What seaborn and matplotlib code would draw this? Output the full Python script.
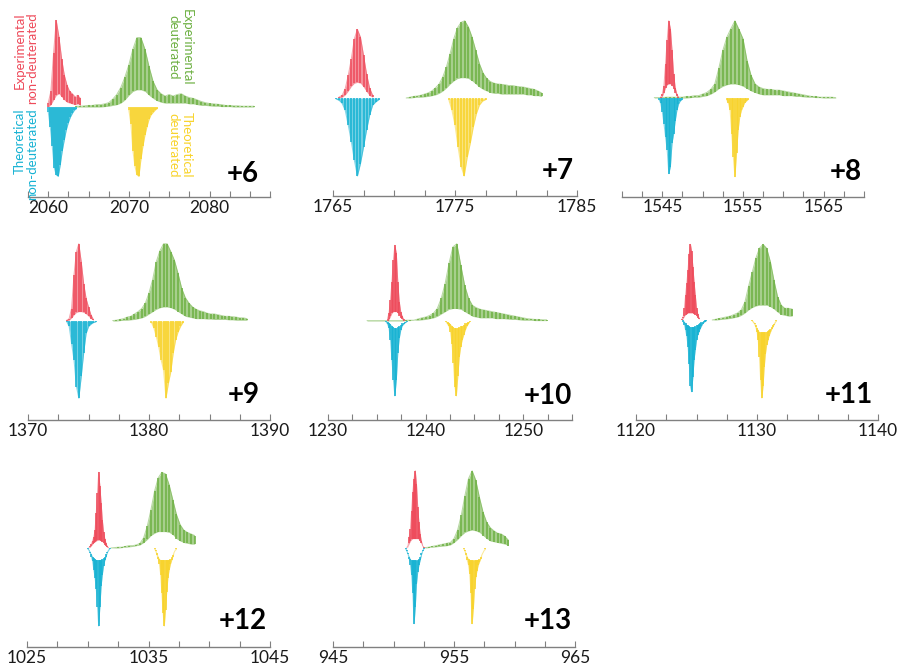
import numpy as np
import matplotlib
matplotlib.use("Agg")
import matplotlib.pyplot as plt
import seaborn as sns

# ---------------------------------------------------------------- data
CHARGES = [6, 7, 8, 9, 10, 11, 12, 13]
XLIM_LO = [2057.5, 1765, 1540, 1370, 1230, 1120, 1025, 945]
XLIM_HI = [2087.5, 1785, 1570, 1390, 1255, 1140, 1045, 965]
TICK_LABELS = [
    [2060, 2070, 2080], [1765, 1775, 1785], [1545, 1555, 1565],
    [1370, 1380, 1390], [1230, 1240, 1250], [1120, 1130, 1140],
    [1025, 1035, 1045], [945, 955, 965],
]

# m/z of first sampled point and sampling interval for each trace
RED_START = [2060.0, 1765.5, 1544.8, 1373.2, 1236.1, 1123.8, 1030.1, 951.1]
RED_STEP = [0.3333, 0.25, 0.2, 0.2, 0.15, 0.1, 0.1, 0.1]
GREEN_START = [2063.5, 1771.0, 1544.0, 1377.0, 1234.0, 1126.3, 1031.9, 952.6]
GREEN_STEP = [0.5, 0.3, 0.5, 0.3, 0.4, 0.3, 0.3, 0.3]
CYAN_START = [2060.0, 1765.25, 1544.6, 1373.2, 1235.95, 1123.9, 1030.0, 951.0]
CYAN_STEP = [0.25, 0.25, 0.2, 0.2, 0.15, 0.1, 0.1, 0.1]
YELLOW_START = [2070.0, 1774.5, 1553.0, 1380.2, 1242.1, 1129.6, 1035.5, 955.8]
YELLOW_STEP = [0.25, 0.25, 0.2, 0.2, 0.15, 0.1, 0.1, 0.1]

# experimental non-deuterated (peak tops / valley floors, relative intensity)
red_6 = [5, 20, 69, 111, 90, 62, 41, 28, 20, 17, 13, 15, 11]
red_6_low = [0, 3, 9, 15, 17, 13, 9, 6, 5, 4, 3, 4, 2]
red_7 = [1.3, 3.4, 12, 29, 50, 76, 88, 78, 55, 31, 13, 3.4]
red_7_low = [0, 1, 4, 9, 15, 19, 20, 19, 14, 8, 3, 1]
red_8 = [1, 5, 16, 44, 74, 99, 89, 61, 31, 13, 5, 1]
red_8_low = [0, 2, 7, 13, 17, 18, 18, 16, 11, 6, 2, 0]
red_9 = [1, 3, 16, 59, 89, 99, 76, 48, 29, 18, 8, 2]
red_9_low = [0, 1, 4, 8, 11, 12, 12, 11, 9, 6, 3, 1]
red_10 = [3, 10, 27, 50, 78, 97, 87, 50, 25, 12, 6, 2]
red_10_low = [0, 2, 6, 10, 12, 12, 12, 10, 7, 4, 2, 0]
red_11 = [1, 4, 15, 32, 47, 64, 85, 97, 88, 68, 49, 32, 16, 8, 3]
red_11_low = [0, 2, 5, 7, 8, 9, 9, 9, 9, 9, 8, 7, 5, 3, 1]
red_12 = [0.5, 2, 5, 9, 14, 23, 45, 70, 97, 79, 58, 36, 21, 12, 6, 2, 0.5]
red_12_low = [0, 1, 3, 5, 7, 8, 9, 10, 10, 10, 9, 8, 6, 4, 2, 1, 0]
red_13 = [0.5, 3, 14, 25, 48, 72, 89, 99, 82, 53, 33, 18, 9, 3, 1]
red_13_low = [0, 2, 6, 9, 11, 12, 12, 12, 12, 12, 11, 9, 6, 3, 0]

# experimental deuterated
green_6 = [1, 1, 1.5, 2, 2, 3, 3, 4, 5.5, 10, 16, 25, 38, 54, 74, 89, 89, 74, 52, 33,
           22, 17, 14, 16, 14, 16, 17, 14, 12, 11, 9, 7, 5.5, 4.5, 4, 3.5, 3, 2, 2, 1.5,
           1.5, 1, 1, 1, 1]
green_6_low = [0, 0, 0, 0, 0, 0, 0, 0.5, 1, 2, 3, 5, 9, 15, 20, 22, 22, 20, 15, 11,
               8, 6, 5, 5, 5, 5, 5, 5, 4, 4, 3, 2, 2, 1.5, 1, 1, 0.5, 0.5, 0.5, 0,
               0, 0, 0, 0, 0]
green_7 = [0, 1, 2, 2.5, 3.5, 5, 6.5, 9, 13, 18, 27, 40, 57, 76, 90, 97, 99, 91, 78, 61,
           44, 32, 25, 21, 19, 18, 17.5, 17, 16, 16, 15, 14.5, 14, 13, 12, 11, 9, 6.5]
green_7_low = [0, 0, 0.5, 1, 1, 1.5, 2, 3, 4, 6, 9, 13, 18, 22, 25, 26, 26, 25, 22, 18,
               14, 11, 9, 7, 6, 6, 5, 5, 5, 5, 5, 5, 5, 4, 4, 3, 3, 2]
green_8 = [0.5, 0.5, 0.5, 1, 1, 1, 1, 1, 2, 2, 3, 3, 5, 7, 11, 18, 38, 61, 78, 89,
           99, 88, 76, 48, 29, 18, 14, 12, 11, 11, 10, 10, 9, 8, 7, 6, 5, 4, 3, 2,
           2, 1, 1, 1, 1, 0.5]
green_8_low = [0, 0, 0, 0, 0, 0, 0, 0, 0, 0.5, 1, 1, 2, 3, 5, 8, 12, 15, 17, 18,
               18, 17, 15, 12, 9, 7, 5, 4, 4, 4, 4, 4, 3, 3, 3, 2, 2, 1.5, 1, 1,
               0.5, 0.5, 0, 0, 0, 0]
green_9 = [0.5, 1, 2, 3, 5, 6, 9, 12, 16, 23, 36, 53, 76, 90, 99, 99, 89, 78, 61, 42,
           30, 23, 18, 15, 13, 12, 10, 9, 9, 8, 7, 6, 6, 5.5, 5, 4, 4, 3]
green_9_low = [0, 0, 0.5, 1, 1, 1.5, 2, 3, 4, 6, 9, 12, 15, 17, 18, 18, 17, 15, 12, 9,
               6, 5, 4, 3, 3, 3, 2.5, 2.5, 2, 2, 2, 2, 1.5, 1.5, 1, 1, 1, 1]
green_10 = [0.5, 0.5, 0.5, 0.5, 0.5, 0.5, 0.5, 0.5, 0.5, 0.5, 1, 1, 1, 2.5, 4, 5, 7, 10, 16, 29,
            48, 74, 95, 99, 72, 46, 29, 20, 17, 15, 14, 13, 12, 11, 10, 9, 8, 7, 6, 5,
            4, 3, 2.5, 2, 2, 1.5, 1.5]
green_10_low = [0, 0, 0, 0, 0, 0, 0, 0, 0, 0, 0.5, 0.5, 1, 1, 1.5, 2, 3, 4, 6, 9,
                12, 15, 16, 16, 15, 12, 9, 6, 5, 4, 4, 4, 4, 3, 3, 3, 2.5, 2, 2, 1.5,
                1, 1, 1, 0.5, 0.5, 0.5, 0.5]
green_11 = [0, 1, 2, 3, 4, 5, 7, 9, 13, 23, 43, 61, 79, 92, 97, 92, 75, 51, 30, 19,
            15, 15, 14]
green_11_low = [0, 0, 0.5, 1, 1.5, 2, 3, 4, 6, 9, 13, 16, 18, 19, 19, 19, 17, 14, 10, 7,
                6, 5, 5]
green_12 = [0, 0.5, 1, 1, 2, 3, 3, 4, 6, 13, 28, 49, 73, 90, 97, 95, 81, 62, 43, 30,
            23, 20, 18, 16]
green_12_low = [0, 0, 0, 0.5, 1, 1.5, 2, 3, 4, 7, 11, 16, 19, 21, 21, 21, 20, 17, 12, 9,
                7, 6, 5, 5]
green_13 = [0.5, 1, 2, 3, 4, 5, 6, 7, 12, 23, 42, 67, 89, 99, 87, 65, 46, 33, 26, 22,
            19, 18, 15, 10]
green_13_low = [0, 0.5, 1, 1.5, 2, 2.5, 3, 4, 7, 11, 16, 20, 22, 23, 22, 20, 16, 12, 9, 8,
                7, 6, 5, 3]

# theoretical non-deuterated (plotted downward)
cyan_6 = [6, 25, 50, 78, 87, 89, 74, 56, 42, 29, 20, 13, 8, 4, 2]
cyan_7 = [1.3, 3, 7, 16, 35, 56, 80, 100, 84, 63, 41, 22, 9, 5, 2]
cyan_8 = [2, 7, 18, 33, 50, 67, 97, 88, 58, 46, 29, 16, 8, 4, 2]
cyan_9 = [1, 7, 29, 50, 84, 99, 71, 41, 16, 7, 4, 2, 1]
cyan_10 = [1, 4, 9, 24, 50, 76, 96, 76, 41, 22, 12, 6, 4, 2, 1]
cyan_10_low = [0, 1, 2, 4, 6, 8, 9, 9, 8, 7, 5, 3, 2, 1, 0]
cyan_11 = [2, 6, 13, 21, 34, 56, 85, 92, 73, 51, 38, 26, 19, 15, 11, 8, 5, 3, 2, 1]
cyan_11_low = [0, 2, 4, 6, 7, 8, 9, 9, 9, 9, 8, 7, 6, 5, 4, 3, 2, 1, 0.5, 0]
cyan_12 = [1, 3, 6, 11, 17, 28, 38, 53, 75, 100, 75, 49, 34, 23, 16, 11, 6, 3, 1]
cyan_12_low = [0, 2, 5, 8, 11, 13, 14, 15, 15, 15, 15, 15, 14, 13, 11, 8, 5, 2, 0]
cyan_13 = [1, 4, 8, 14, 22, 35, 58, 97, 76, 46, 31, 22, 16, 9, 4, 1]
cyan_13_low = [0, 3, 7, 11, 14, 16, 16, 16, 16, 16, 15, 14, 11, 7, 3, 0]

# theoretical deuterated (plotted downward)
yellow_6 = [4, 22, 56, 76, 87, 89, 67, 50, 36, 25, 16, 10, 7, 4, 2]
yellow_7 = [3, 16, 35, 63, 88, 100, 76, 58, 37, 20, 9, 4, 2]
yellow_8 = [3, 7, 16, 46, 76, 101, 71, 41, 24, 16, 11, 6, 4, 2]
yellow_9 = [2, 9, 20, 33, 50, 63, 99, 80, 65, 41, 24, 14, 7, 2]
yellow_10 = [1, 4, 7, 14, 29, 54, 84, 96, 71, 46, 33, 24, 18, 12, 7, 4, 1]
yellow_10_low = [0, 1, 2, 4, 6, 8, 9, 9, 9, 8, 7, 6, 5, 3, 2, 1, 0]
yellow_11 = [1, 3, 5, 9, 15, 26, 47, 77, 100, 85, 60, 43, 32, 26, 20, 16, 12, 9, 6, 3, 1]
yellow_11_low = [0, 2, 4, 7, 10, 13, 15, 16, 16, 16, 16, 15, 15, 14, 13, 11, 9, 7, 5, 2, 0]
yellow_12 = [1, 4, 9, 14, 21, 34, 58, 83, 100, 79, 56, 38, 28, 21, 16, 11, 6, 3, 1]
yellow_12_low = [0, 3, 7, 11, 14, 15, 15, 15, 15, 15, 15, 15, 15, 14, 12, 9, 6, 3, 0]
yellow_13 = [1, 4, 9, 16, 22, 33, 58, 97, 78, 52, 37, 29, 22, 18, 14, 9, 6, 3, 1]
yellow_13_low = [0, 3, 7, 11, 14, 16, 16, 16, 16, 16, 16, 15, 15, 14, 12, 9, 6, 3, 0]

RED_TOP = [red_6, red_7, red_8, red_9, red_10, red_11, red_12, red_13]
RED_LOW = [red_6_low, red_7_low, red_8_low, red_9_low, red_10_low, red_11_low, red_12_low, red_13_low]
GREEN_TOP = [green_6, green_7, green_8, green_9, green_10, green_11, green_12, green_13]
GREEN_LOW = [green_6_low, green_7_low, green_8_low, green_9_low, green_10_low, green_11_low,
             green_12_low, green_13_low]
CYAN_TOP = [cyan_6, cyan_7, cyan_8, cyan_9, cyan_10, cyan_11, cyan_12, cyan_13]
CYAN_LOW = [None, None, None, None, cyan_10_low, cyan_11_low, cyan_12_low, cyan_13_low]
YELLOW_TOP = [yellow_6, yellow_7, yellow_8, yellow_9, yellow_10, yellow_11, yellow_12, yellow_13]
YELLOW_LOW = [None, None, None, None, yellow_10_low, yellow_11_low, yellow_12_low, yellow_13_low]

# ---------------------------------------------------------------- style
RED = "#EE4A5A"
GREEN = "#6DB042"
CYAN = "#16B2D3"
YELLOW = "#F8D32A"
AXIS_GREY = "#808080"

sns.set_theme(style="white")
plt.rcParams["font.family"] = ["Lato", "DejaVu Sans"]

W, H = 899, 672
fig = plt.figure(figsize=(W / 100, H / 100), dpi=100)

# panel frames in pixels: left, right, axis-line y, zero-line y
FRAMES = [
    (28, 270, 197, 107), (333, 577, 196, 98), (622, 864, 196.5, 98),
    (28, 270, 420, 321), (328, 572, 420, 321), (636, 878, 420, 320),
    (27, 270, 647, 548), (333, 575, 647, 548),
]
LABEL_POS = [(243, 174), (558, 171), (846, 172), (244, 395),
             (548, 396), (849, 395), (243, 621), (548, 621)]
PX_PER_UNIT = 0.78
AX_HEIGHT = 188


def draw_trace(ax, start, step, top, low, sign, color):
    top = np.asarray(top, dtype=float)
    low = np.zeros_like(top) if low is None else np.asarray(low, dtype=float)
    x = start + step * np.arange(len(top))
    ax.fill_between(x, sign * low, sign * top, color=color, alpha=0.6, lw=0)
    ax.vlines(x, sign * low, sign * top, color=color, lw=1.1)
    sns.lineplot(x=x, y=sign * top, ax=ax, color=color, lw=0.7, alpha=0.5,
                 estimator=None, sort=False)


for i, z in enumerate(CHARGES):
    left, right, axis_y, zero_y = FRAMES[i]
    ax = fig.add_axes([left / W, 1 - axis_y / H, (right - left) / W, AX_HEIGHT / H])
    ax.patch.set_visible(False)

    draw_trace(ax, GREEN_START[i], GREEN_STEP[i], GREEN_TOP[i], GREEN_LOW[i], 1, GREEN)
    draw_trace(ax, RED_START[i], RED_STEP[i], RED_TOP[i], RED_LOW[i], 1, RED)
    draw_trace(ax, CYAN_START[i], CYAN_STEP[i], CYAN_TOP[i], CYAN_LOW[i], -1, CYAN)
    draw_trace(ax, YELLOW_START[i], YELLOW_STEP[i], YELLOW_TOP[i], YELLOW_LOW[i], -1, YELLOW)

    y_lo = -(axis_y - zero_y) / PX_PER_UNIT
    ax.set_ylim(y_lo, y_lo + AX_HEIGHT / PX_PER_UNIT)
    ax.set_xlim(XLIM_LO[i], XLIM_HI[i])

    for side in ("left", "right", "top"):
        ax.spines[side].set_visible(False)
    ax.spines["bottom"].set_color(AXIS_GREY)
    ax.spines["bottom"].set_linewidth(1.0)
    ax.set_yticks([])
    ax.set_ylabel("")
    ax.set_xlabel("")

    ax.set_xticks(TICK_LABELS[i])
    ax.set_xticklabels([str(t) for t in TICK_LABELS[i]])
    minor = [t for t in np.arange(XLIM_LO[i], XLIM_HI[i] + 0.01, 2.5) if t not in TICK_LABELS[i]]
    ax.set_xticks(minor, minor=True)
    ax.tick_params(axis="x", which="both", bottom=True, direction="in", length=4,
                   width=0.8, color=AXIS_GREY, pad=2, labelsize=12.5, labelcolor="#1a1a1a")

    lx, ly = LABEL_POS[i]
    fig.text(lx / W, 1 - ly / H, f"+{z}", fontsize=20, fontweight="bold",
             ha="center", va="center", color="black")

# trace legend written along the first panel
fig.text(26 / W, 1 - 12 / H, "Experimental\nnon-deuterated", rotation=90, color=RED,
         fontsize=9.5, ha="center", va="top", multialignment="right", linespacing=1.1)
fig.text(26 / W, 1 - 108 / H, "Theoretical\nnon-deuterated", rotation=90, color=CYAN,
         fontsize=9.5, ha="center", va="top", multialignment="right", linespacing=1.1)
fig.text(180 / W, 1 - 47 / H, "Experimental\ndeuterated", rotation=270, color=GREEN,
         fontsize=9.5, ha="center", va="center", multialignment="center", linespacing=1.1)
fig.text(180 / W, 1 - 145 / H, "Theoretical\ndeuterated", rotation=270, color=YELLOW,
         fontsize=9.5, ha="center", va="center", multialignment="center", linespacing=1.1)

fig.savefig("out.png", dpi=100)
